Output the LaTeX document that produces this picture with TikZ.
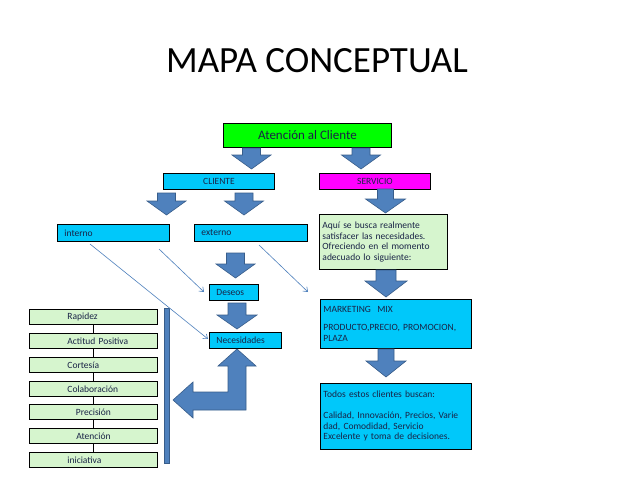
\documentclass[tikz,border=0pt]{standalone}
\usepackage{fontspec}
\setmainfont{Carlito}
\usetikzlibrary{arrows.meta}
\definecolor{cgreen}{RGB}{0,255,0}
\definecolor{ccyan}{RGB}{0,200,250}
\definecolor{cmag}{RGB}{255,0,255}
\definecolor{cpale}{RGB}{214,245,206}
\definecolor{cblue}{RGB}{79,129,189}
\definecolor{cbluedark}{RGB}{56,93,138}
\definecolor{ctext}{RGB}{25,35,70}
\newcommand\blkdown[6]{%
  \draw[blockarrow] ({#1-#5},#2) -- ({#1+#5},#2) -- ({#1+#5},#6) -- ({#1+#4},#6)
    -- (#1,#3) -- ({#1-#4},#6) -- ({#1-#5},#6) -- cycle;}
\begin{document}
\begin{tikzpicture}[x=1pt,y=-1pt,
  box/.style={draw=black, line width=0.9pt, anchor=north west, inner sep=0pt,
    text=ctext, font=\fontsize{9.5}{10.5}\selectfont},
  ltext/.style={align=left, text width=#1, inner xsep=3pt},
  lbox/.style={box, fill=cpale, minimum width=128, minimum height=15,
    align=left, text width=128, inner xsep=0pt},
  cbox/.style={box, fill=cpale, minimum width=128, minimum height=15,
    align=center, text width=128, inner xsep=0pt},
  blockarrow/.style={fill=cblue, draw=cbluedark, line width=0.6pt, line join=miter},
  thin/.style={draw=cblue, line width=0.6pt, -{Straight Barb[length=4pt,width=6pt]}},
  link/.style={draw=black, line width=0.8pt}]
\useasboundingbox (0,0) rectangle (638,479);
\fill[white] (0,0) rectangle (638,479);

% title
\node[anchor=base, font=\fontsize{37}{40}\selectfont, text=black, inner sep=0pt] (title) at (317,72) {MAPA CONCEPTUAL};

% top boxes
\node[box, fill=cgreen, minimum width=168, minimum height=24, font=\fontsize{13}{15}\selectfont] (atc) at (223,123) {Atención al Cliente};
\node[box, fill=ccyan, minimum width=111, minimum height=16] (cli) at (163,173) {CLIENTE};
\node[box, fill=cmag, minimum width=111, minimum height=16] (ser) at (319,173) {SERVICIO};

\node[box, fill=ccyan, minimum height=17, ltext=98, inner xsep=7pt] (int) at (57,224) {interno};
\node[box, fill=ccyan, minimum height=17, ltext=99, inner xsep=7pt] (ext) at (194,224) {externo};

\node[box, fill=cpale, minimum height=55, ltext=122] (aqui) at (319,214)
  {Aquí se busca realmente\\satisfacer las necesidades.\\Ofreciendo en el momento\\adecuado lo siguiente:};
\node[box, fill=ccyan, minimum height=49, ltext=145] (mkt) at (320,299)
  {MARKETING\ \ MIX\\[7.5pt]PRODUCTO,PRECIO, PROMOCION,\\PLAZA};
\node[box, fill=ccyan, minimum height=66, ltext=145] (todos) at (320,383)
  {Todos estos clientes buscan:\\[10.5pt]Calidad, Innovación, Precios, Varie\\dad, Comodidad, Servicio\\Excelente y toma de decisiones.};

\node[box, fill=ccyan, minimum height=16, ltext=35, inner xsep=7pt] (des) at (209,284) {Deseos};
\node[box, fill=ccyan, minimum height=16, ltext=58, inner xsep=7pt] (nec) at (209,332) {Necesidades};

% left list
\node[lbox] (l1) at (29,309) {\hspace*{38pt}Rapidez};
\node[lbox] (l2) at (29,333) {\hspace*{38pt}Actitud Positiva};
\node[lbox] (l3) at (29,357) {\hspace*{38pt}Cortesía};
\node[lbox] (l4) at (29,381) {\hspace*{38pt}Colaboración};
\node[cbox] (l5) at (29,404) {Precisión};
\node[cbox] (l6) at (29,428) {Atención};
\node[lbox] (l7) at (29,452) {\hspace*{38pt}iniciativa};
\foreach \a/\b in {l1/l2,l2/l3,l3/l4,l4/l5,l5/l6,l6/l7}
  \draw[link] (\a.south) -- (\b.north);

% vertical bar
\node[draw=cbluedark, fill=cblue, line width=0.6pt, anchor=north west, inner sep=0pt,
  minimum width=5, minimum height=155] (bar) at (164,308) {};

% block arrows
\blkdown{251.5}{148}{169}{19.5}{9}{155}
\blkdown{361}{148}{169}{19.5}{9}{155}
\blkdown{166.5}{193}{215}{19.5}{9}{201}
\blkdown{244}{193}{215}{19.5}{9}{201}
\blkdown{385.5}{189}{213}{20}{8}{199}
\blkdown{235.5}{253}{278}{19.5}{9}{264}
\blkdown{237}{303}{329}{20}{9}{315}
\blkdown{386}{270}{297}{21}{10}{281}
\blkdown{386}{349}{377}{20}{8}{361}

% L-shaped arrow
\draw[blockarrow] (237,349) -- (256,366) -- (246,366) -- (246,410) -- (193,410)
  -- (193,418) -- (173,400) -- (193,382) -- (193,392) -- (228,392) -- (228,366)
  -- (218,366) -- cycle;

% thin arrows
\coordinate (s1) at (90,244);
\coordinate (e1) at (208,339);
\coordinate (s2) at (159,249);
\coordinate (e2) at (204,292);
\coordinate (s3) at (259,245);
\coordinate (e3) at (308,292);
\draw[thin] (s1) -- (e1);
\draw[thin] (s2) -- (e2);
\draw[thin] (s3) -- (e3);
\end{tikzpicture}
\end{document}
